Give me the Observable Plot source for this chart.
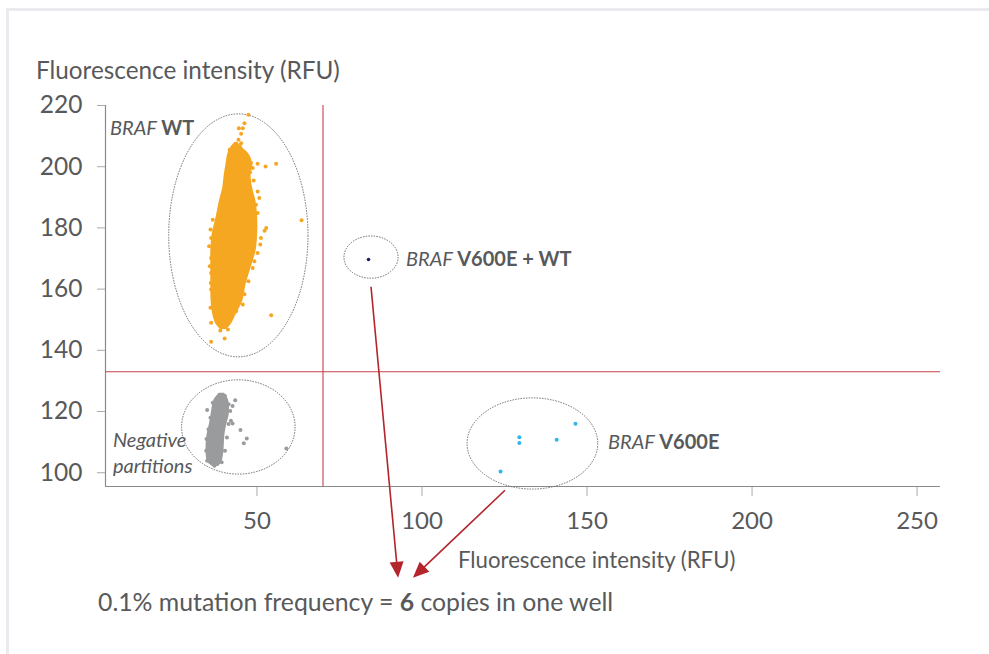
<!DOCTYPE html>
<html><head><meta charset="utf-8">
<script src="https://cdn.jsdelivr.net/npm/d3@7"></script>
<script src="https://cdn.jsdelivr.net/npm/@observablehq/plot@0.6"></script>
<style>
body{margin:0;background:#fff;}
#wrap{position:relative;width:989px;height:654px;overflow:hidden;font-family:Lato,"Noto Sans",sans-serif;color:#58595b;}
#frame{position:absolute;left:6px;top:8px;right:-10px;bottom:-10px;border-left:3px solid #ebebef;border-top:3px solid #ebebef;}
#chart{position:absolute;left:0;top:0;}
.t{position:absolute;white-space:nowrap;line-height:1;transform:translateY(-50%);}
</style></head><body>
<div id="wrap">
<div id="frame"></div>
<div id="chart"></div>
<div class="t" id="ytitle" style="left:36px;top:70px;font-size:24.3px;">Fluorescence intensity (RFU)</div>
<div class="t" id="xtitle" style="left:458px;top:560px;font-size:22.2px;">Fluorescence intensity (RFU)</div>
<div class="t" id="caption" style="left:98px;top:602px;font-size:24.8px;">0.1% mutation frequency = <b>6</b> copies in one well</div>
</div>
<script>
// ---- data ----
const xTicks = [50, 100, 150, 200, 250];
const yTicks = [100, 120, 140, 160, 180, 200, 220];
const thresholdX = [70];
const thresholdY = [133];

// BRAF WT (orange) dense core: envelope per level
const wtCoreY  = [208.0, 206.5, 203.9, 200.6, 197.4, 193.0, 188.7, 183.3, 177.8, 172.4, 167.0, 161.5, 156.1, 151.7, 148.5, 146.8];
const wtCoreX1 = [43.4, 42.2, 41.1, 40.6, 40.1, 39.6, 38.6, 37.6, 36.4, 36.0, 36.0, 36.0, 36.1, 36.6, 37.6, 39.0];
const wtCoreX2 = [44.2, 45.3, 47.7, 48.7, 48.2, 48.7, 49.7, 50.2, 50.2, 49.7, 48.2, 46.7, 45.7, 43.7, 42.2, 40.8];
// BRAF WT individual droplets (edges and outliers)
const wtX = [36.6, 35.9, 36.1, 36.1, 36.1, 36.1, 35.9, 36.1, 35.5, 35.7, 36.0,
  50.2, 50.7, 49.7, 50.2, 52.8, 52.3, 51.2, 51.0, 50.2, 49.2, 48.7, 47.4, 46.2, 45.7, 49.0, 47.9,
  38.6, 39.6, 41.2, 38.9, 41.2, 40.2, 42.2, 43.7,
  41.7, 42.7, 43.7, 45.2, 46.2, 47.4, 48.2, 48.7, 45.2, 43.7,
  47.4, 46.2, 44.5, 45.7, 45.2, 44.4, 44.8,
  50.2, 52.6, 55.8, 63.5, 54.3, 36.1];
const wtY = [182.7, 179.5, 176.7, 170.2, 165.3, 159.9, 153.9, 149.0, 174.0, 167.5, 162.0,
  191.9, 189.8, 187.6, 184.9, 180.0, 179.1, 176.7, 174.6, 171.8, 169.1, 166.9, 162.6, 158.3, 155.0, 195.5, 198.2,
  150.6, 149.6, 149.0, 146.5, 146.8, 143.9, 151.7, 152.8,
  205.5, 206.1, 205.0, 204.5, 203.4, 202.8, 201.2, 199.6, 207.7, 207.2,
  217.0, 214.2, 212.6, 212.6, 210.8, 208.8, 206.6,
  201.0, 200.1, 201.0, 182.5, 151.5, 142.8];

// Negative partitions (gray) dense core
const negCoreY  = [126.0, 124.0, 122.4, 119.1, 115.9, 112.6, 109.3, 106.1, 103.4, 102.0];
const negCoreX1 = [38.6, 37.1, 36.6, 36.1, 35.6, 34.9, 34.6, 34.6, 35.1, 36.6];
const negCoreX2 = [40.2, 41.3, 41.6, 41.6, 40.9, 40.3, 40.1, 39.9, 39.3, 38.4];
const negX = [38.6, 40.3, 41.4, 41.9, 36.6, 35.9, 35.3, 34.7, 34.6, 34.9, 37.1, 39.3, 40.3, 40.9, 41.4, 42.1,
  34.9, 43.4, 42.6, 42.6, 45.0, 46.9, 46.0, 58.9];
const negY = [125.4, 125.1, 122.4, 120.2, 122.9, 118.0, 114.2, 111.0, 107.2, 103.9, 102.3, 103.4, 107.2, 111.5, 115.9, 117.0,
  120.5, 123.7, 121.8, 116.1, 114.0, 111.2, 109.6, 107.9];

// BRAF V600E (cyan)
const mutX = [146.5, 129.5, 129.5, 140.8, 123.8];
const mutY = [116.0, 111.6, 109.7, 110.8, 100.4];
// BRAF V600E + WT (navy)
const dblX = [83.8];
const dblY = [169.7];

// cluster outlines (center and radii in data units)
const ellCx = [44.5, 44.5, 84.7, 133.6];
const ellCy = [177.4, 114.8, 170.3, 109.4];
const ellRx = [21.1, 17.2, 8.2, 19.8];
const ellRy = [39.7, 15.4, 6.9, 14.9];

// annotation labels
const labX = [5.6, 95.3, 156.5, 6.5, 6.5];
const labY = [212.5, 169.7, 109.9, 110.5, 102.1];
const labItalic = ["BRAF ", "BRAF ", "BRAF ", "Negative", "partitions"];
const labBold = ["WT", "V600E + WT", "V600E", "", ""];

// arrows to the caption
const arrX1 = [84.7, 125.3];
const arrY1 = [160.6, 94.1];
const arrX2 = [92.9, 97.4];
const arrY2 = [65.5, 65.5];

// ---- drawing ----
const NS = "http://www.w3.org/2000/svg";
const TEXT = "#58595b";

function ellipseMark(index, scales) {
  const g = document.createElementNS(NS, "g");
  ellCx.forEach((cx, i) => {
    const e = document.createElementNS(NS, "ellipse");
    const px = scales.x(cx), py = scales.y(ellCy[i]);
    e.setAttribute("cx", px);
    e.setAttribute("cy", py);
    e.setAttribute("rx", Math.abs(scales.x(cx + ellRx[i]) - px));
    e.setAttribute("ry", Math.abs(scales.y(ellCy[i] + ellRy[i]) - py));
    e.setAttribute("fill", "none");
    e.setAttribute("stroke", "#6d6e71");
    e.setAttribute("stroke-width", 1);
    e.setAttribute("stroke-dasharray", "1.5 1.2");
    g.appendChild(e);
  });
  return g;
}

function arrowMark(index, scales) {
  const g = document.createElementNS(NS, "g");
  arrX1.forEach((x1, i) => {
    const ax = scales.x(x1), ay = scales.y(arrY1[i]);
    const bx = scales.x(arrX2[i]), by = scales.y(arrY2[i]);
    const dx = bx - ax, dy = by - ay, L = Math.hypot(dx, dy);
    const ux = dx / L, uy = dy / L, hl = 16, hw = 7;
    const cx = bx - ux * hl, cy = by - uy * hl;
    const line = document.createElementNS(NS, "line");
    line.setAttribute("x1", ax); line.setAttribute("y1", ay);
    line.setAttribute("x2", cx + ux * 2); line.setAttribute("y2", cy + uy * 2);
    line.setAttribute("stroke", "#b3242b");
    line.setAttribute("stroke-width", 1.6);
    g.appendChild(line);
    const p = document.createElementNS(NS, "polygon");
    p.setAttribute("points", `${bx},${by} ${cx - uy * hw},${cy + ux * hw} ${cx + uy * hw},${cy - ux * hw}`);
    p.setAttribute("fill", "#b3242b");
    g.appendChild(p);
  });
  return g;
}

function labelMark(index, scales) {
  const g = document.createElementNS(NS, "g");
  labX.forEach((x, i) => {
    const t = document.createElementNS(NS, "text");
    t.setAttribute("x", scales.x(x));
    t.setAttribute("y", scales.y(labY[i]));
    t.setAttribute("dy", "0.35em");
    t.setAttribute("text-anchor", "start");
    t.setAttribute("fill", TEXT);
    t.setAttribute("font-size", 20);
    const a = document.createElementNS(NS, "tspan");
    a.setAttribute("font-style", "italic");
    a.textContent = labItalic[i];
    t.appendChild(a);
    if (labBold[i]) {
      const b = document.createElementNS(NS, "tspan");
      b.setAttribute("font-weight", "bold");
      b.textContent = labBold[i];
      t.appendChild(b);
    }
    g.appendChild(t);
  });
  return g;
}

const wtCore = wtCoreY.map((y, i) => ({y, x1: wtCoreX1[i], x2: wtCoreX2[i]}));
const negCore = negCoreY.map((y, i) => ({y, x1: negCoreX1[i], x2: negCoreX2[i]}));
const ORANGE = "#f6a722", GRAY = "#9a9b9d", CYAN = "#2fb5ec", NAVY = "#1c1f5e", RED = "#c8404b";

const plot = Plot.plot({
  width: 989,
  height: 654,
  marginLeft: 105,
  marginRight: 49,
  marginTop: 105,
  marginBottom: 168,
  style: {fontFamily: "Lato, 'Noto Sans', sans-serif", color: TEXT, background: "transparent", overflow: "visible"},
  x: {domain: [4.1, 257.1]},
  y: {domain: [95.5, 220]},
  marks: [
    Plot.axisX({ticks: xTicks, tickSize: 10, tickPadding: 15, fontSize: 24, stroke: "#aaaaaa", fill: TEXT, label: null}),
    Plot.axisY({ticks: yTicks, tickSize: 8, tickPadding: 15, fontSize: 24.5, stroke: "#aaaaaa", fill: TEXT, label: null}),
    Plot.ruleX([4.1], {y1: 95.5, y2: 220, stroke: "#8a8a8a", strokeWidth: 1.2}),
    Plot.ruleY([95.5], {x1: 4.1, x2: 257.1, stroke: "#8a8a8a", strokeWidth: 1.2}),
    Plot.ruleX(thresholdX, {y1: 95.5, y2: 220, stroke: RED, strokeWidth: 1.1}),
    Plot.ruleY(thresholdY, {x1: 4.1, x2: 257.1, stroke: RED, strokeWidth: 1.1}),
    ellipseMark,
    Plot.areaX(wtCore, {y: "y", x1: "x1", x2: "x2", curve: "catmull-rom", fill: ORANGE}),
    Plot.dot(wtX, {x: wtX, y: wtY, r: 2, fill: ORANGE}),
    Plot.areaX(negCore, {y: "y", x1: "x1", x2: "x2", curve: "catmull-rom", fill: GRAY}),
    Plot.dot(negX, {x: negX, y: negY, r: 2, fill: GRAY}),
    Plot.dot(mutX, {x: mutX, y: mutY, r: 2, fill: CYAN}),
    Plot.dot(dblX, {x: dblX, y: dblY, r: 1.8, fill: NAVY}),
    labelMark,
    arrowMark
  ]
});
document.getElementById("chart").appendChild(plot);
</script>
</body></html>
